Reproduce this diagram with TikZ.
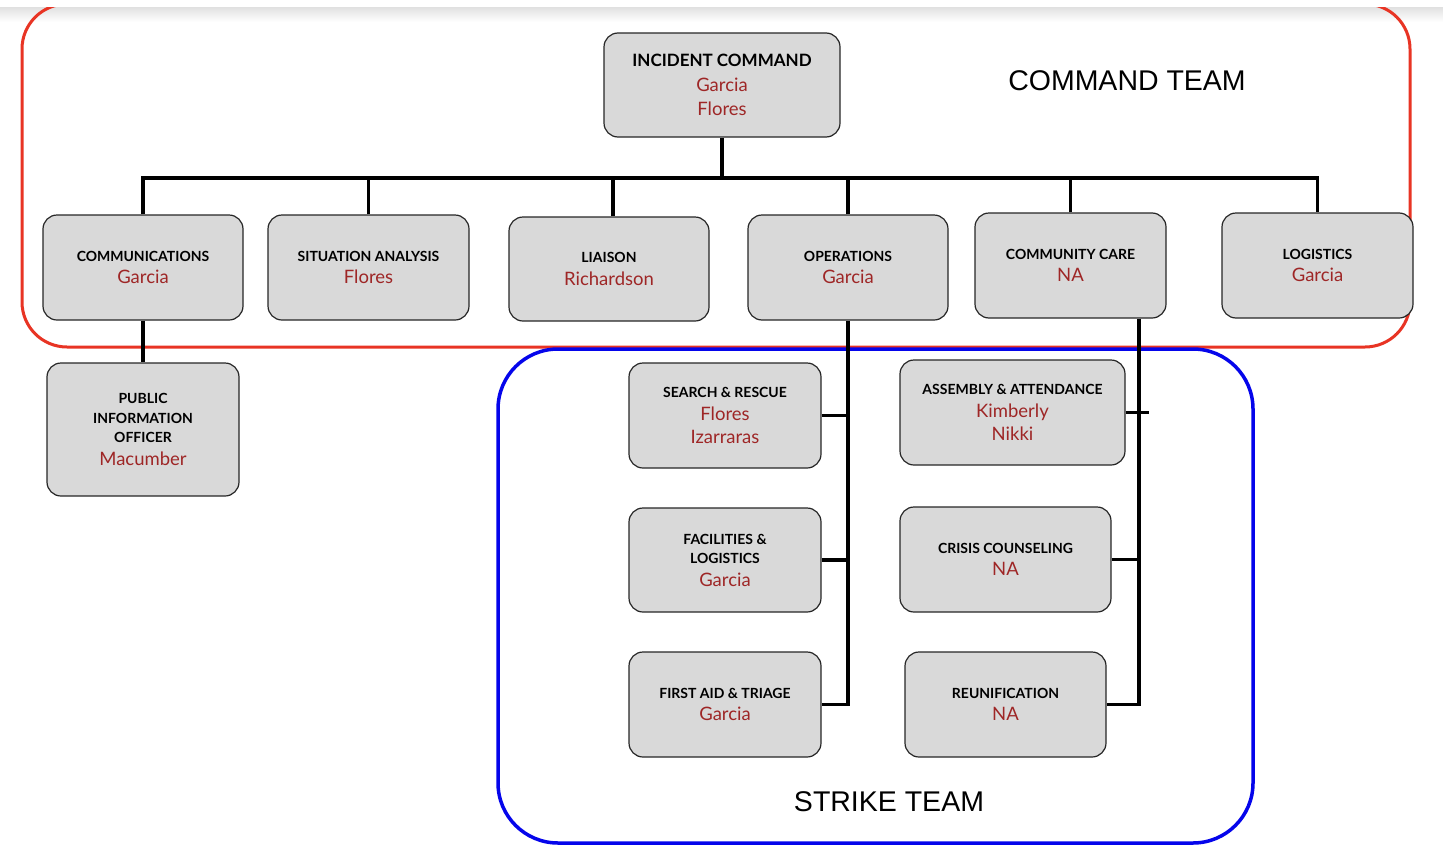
\documentclass[tikz,border=0pt]{standalone}
\usepackage{fontspec}
\setmainfont{Lato}
\newfontfamily\teamfont{Liberation Sans}
\usetikzlibrary{positioning}
\definecolor{namered}{RGB}{158,38,38}
\definecolor{boxgray}{RGB}{217,217,217}
\definecolor{teamred}{RGB}{232,52,36}
\definecolor{teamblue}{RGB}{5,5,235}
\tikzstyle{role} = [draw=black!85, fill=boxgray, rounded corners=14pt, line width=1.2pt, align=center, inner sep=0pt, minimum width=200pt, minimum height=105pt, font=\fontsize{14}{19.5}\selectfont\bfseries]
\tikzstyle{link} = [draw, line width=3.5pt]
\tikzstyle{team} = [font=\teamfont\fontsize{28.5}{30}\selectfont]
\newcommand{\who}[1]{{\color{namered}\fontsize{18.5}{22}\selectfont\mdseries #1}}

\begin{document}
\begin{tikzpicture}[x=1pt, y=-1pt]
  \useasboundingbox (0,0) rectangle (1443,846);
  % team frames
  \shade[top color=black!12, bottom color=white] (0,7) rectangle (1443,22);
  \draw[teamred, line width=3pt, rounded corners=45pt] (22,4) rectangle (1410,347);
  \fill[white] (0,0) rectangle (1443,7);
  \draw[teamblue, line width=3.5pt, rounded corners=60pt] (498,349) rectangle (1253,843);
  \node (cmdteam) [team] at (1127,81) {COMMAND TEAM};
  \node (strkteam) [team] at (889,802) {STRIKE TEAM};

  % command team
  \node (ic)   [role, minimum width=236pt, minimum height=104pt, font=\fontsize{17}{22}\selectfont\bfseries] at (722,85)
    {INCIDENT COMMAND\\[3pt] \who{Garcia}\\[2pt] \who{Flores}};
  \node (comm) [role] at (143,267.5)   {COMMUNICATIONS\\[3pt] \who{Garcia}};
  \node (sit)  [role, minimum width=201pt] at (368.5,267.5) {SITUATION ANALYSIS\\[3pt] \who{Flores}};
  \node (liai) [role, minimum height=104pt] at (609,269) {LIAISON\\[3pt] \who{Richardson}};
  \node (ops)  [role] at (848,267.5)   {OPERATIONS\\[3pt] \who{Garcia}};
  \node (cc)   [role, minimum width=191pt] at (1070.5,265.5) {COMMUNITY CARE\\[3pt] \who{NA}};
  \node (logi) [role, minimum width=191pt] at (1317.5,265.5) {LOGISTICS\\[3pt] \who{Garcia}};
  \node (pio)  [role, minimum width=192pt, minimum height=133pt] at (143,429.5)
    {PUBLIC\\ INFORMATION\\ OFFICER\\[3pt] \who{Macumber}};

  % strike team
  \node (sar)  [role, minimum width=192pt] at (725,415.5) {SEARCH \& RESCUE\\[3pt] \who{Flores}\\[4pt] \who{Izarraras}};
  \node (fac)  [role, minimum width=192pt, minimum height=104pt] at (725,560) {FACILITIES \&\\ LOGISTICS\\[3pt] \who{Garcia}};
  \node (fat)  [role, minimum width=192pt] at (725,704.5) {FIRST AID \& TRIAGE\\[3pt] \who{Garcia}};
  \node (asm)  [role, minimum width=225pt] at (1012.5,412.5) {ASSEMBLY \& ATTENDANCE\\[3pt] \who{Kimberly}\\[4pt] \who{Nikki}};
  \node (cris) [role, minimum width=211pt] at (1005.5,559.5) {CRISIS COUNSELING\\[3pt] \who{NA}};
  \node (reun) [role, minimum width=201pt] at (1005.5,704.5) {REUNIFICATION\\[3pt] \who{NA}};

  % connectors
  \coordinate (bus) at (722,178);
  \draw[link] (ic.south) -- (bus);
  \draw[link] (comm.north) -- (comm.north |- bus) -- (logi.north |- bus) -- (logi.north);
  \foreach \n in {sit,ops,cc}
    \draw[link] (\n.north) -- (\n.north |- bus);
  \draw[link] ([xshift=4pt]liai.north) -- ([xshift=4pt]liai.north |- bus);
  \draw[link] (comm.south) -- (pio.north);

  \draw[link] (ops.south) -- (ops.south |- fat.east) -- (fat.east);
  \draw[link] (sar.east) -- (sar.east -| ops.south);
  \draw[link] (fac.east) -- (fac.east -| ops.south);

  \coordinate (ccdrop) at ([xshift=68.5pt]cc.south);
  \coordinate (asmtick) at ([xshift=23pt]asm.east);
  \draw[link] (ccdrop) -- (ccdrop |- reun.east) -- (reun.east);
  \draw[link] (cris.east) -- (cris.east -| ccdrop);
  \draw[link, line width=2.5pt] (asm.east) -- (asmtick);
\end{tikzpicture}
\end{document}
